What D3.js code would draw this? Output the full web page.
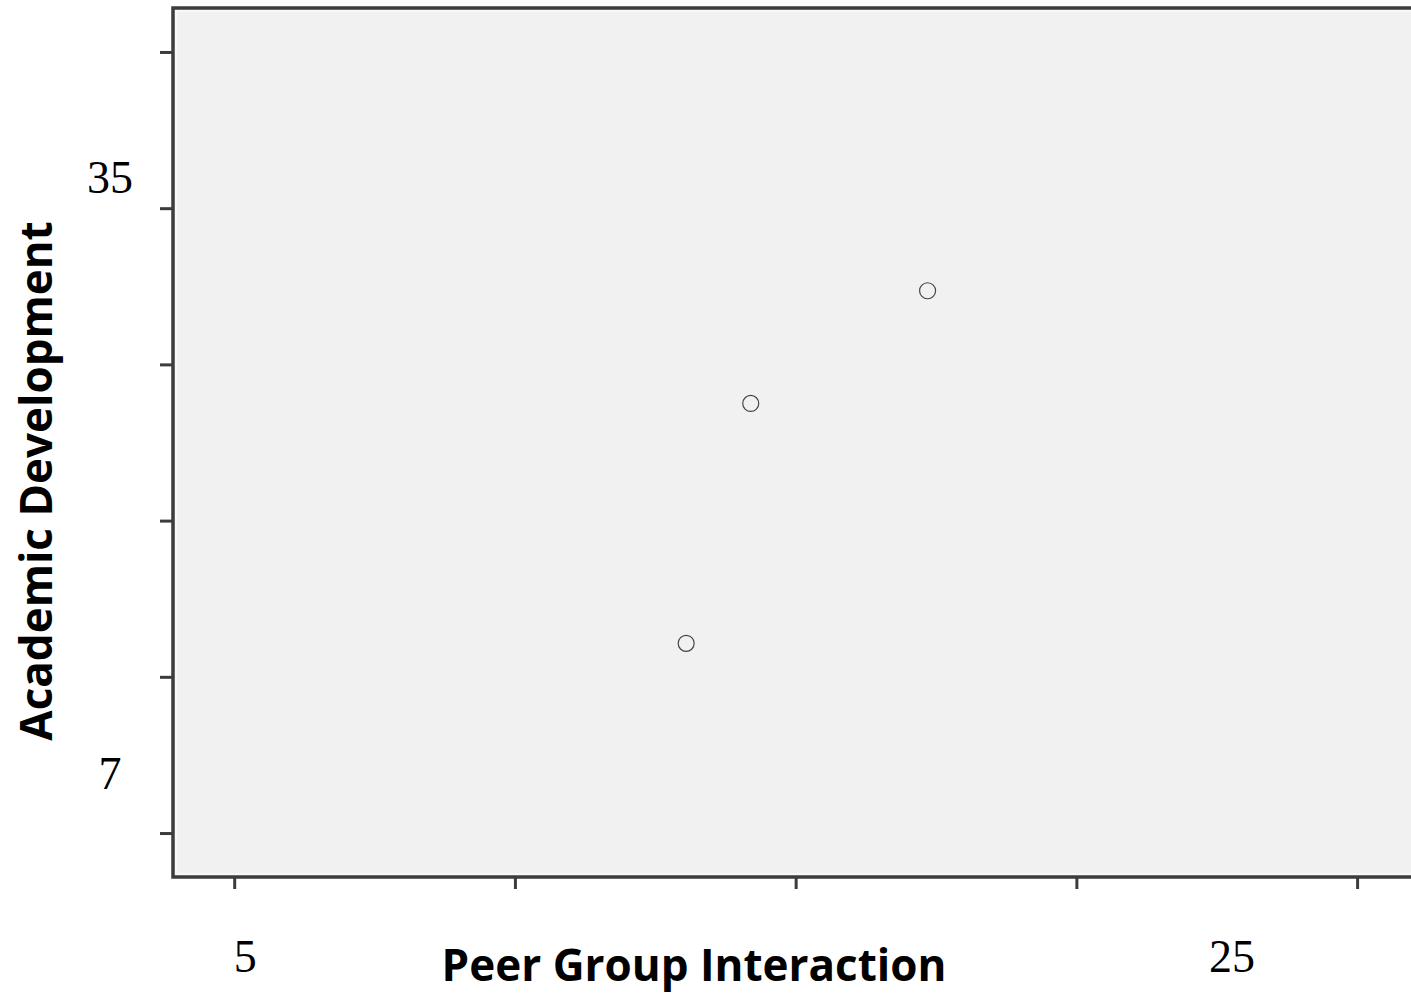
<!DOCTYPE html>
<html>
<head>
<meta charset="utf-8">
<script src="https://cdn.jsdelivr.net/npm/d3@7"></script>
<style>
  body { margin: 0; background: #fff; }
</style>
</head>
<body>
<div id="chart"></div>
<script>
// data
const peerGroup = [13.05, 14.2, 17.35];
const academicDev = [15.5, 26.25, 31.3];
const xTicks = [5, 10, 15, 20, 25];
const yTicks = [7, 14, 21, 28, 35, 42];
const xLabels = [5, 25];
const yLabels = [7, 35];

const margin = { top: 8, right: 0, bottom: 116, left: 173 };
const width = 1411 - margin.left - margin.right;
const height = 993 - margin.top - margin.bottom;

const svg = d3.select('#chart')
    .append('svg')
    .attr('width', width + margin.left + margin.right)
    .attr('height', height + margin.top + margin.bottom)
    .append('g')
    .attr('transform', `translate(${margin.left},${margin.top})`);

// scales
const x = d3.scaleLinear()
    .domain([3.91, 25.96])
    .range([0, width]);

const y = d3.scaleLinear()
    .domain([5.03, 43.97])
    .range([height, 0]);

// plot background
svg.append('rect')
    .attr('width', width + 2)
    .attr('height', height)
    .attr('fill', '#f1f1f1');

svg.append('rect')
    .attr('x', 3).attr('y', 3)
    .attr('width', width)
    .attr('height', height - 6)
    .attr('fill', 'none')
    .attr('stroke', '#f8f8f8')
    .attr('stroke-width', 2);

// axes, labels drawn separately
const xAxis = d3.axisBottom(x).tickValues(xTicks).tickSize(12).tickFormat('');
const yAxis = d3.axisLeft(y).tickValues(yTicks).tickSize(13).tickFormat('');

const gx = svg.append('g')
    .attr('transform', `translate(0,${height})`)
    .call(xAxis);
const gy = svg.append('g').call(yAxis);

[gx, gy].forEach(g => {
    g.select('.domain').remove();
    g.selectAll('.tick line').attr('stroke', '#3c3c3c').attr('stroke-width', 3);
});

// frame lines (left, top, bottom)
svg.append('path')
    .attr('d', `M${width + 2},0H0V${height}H${width + 2}`)
    .attr('fill', 'none')
    .attr('stroke', '#3c3c3c')
    .attr('stroke-width', 3.5);

// points
svg.append('g')
    .selectAll('circle')
    .data(peerGroup)
    .join('circle')
    .attr('cx', d => x(d))
    .attr('cy', (d, i) => y(academicDev[i]))
    .attr('r', 8)
    .attr('fill', 'none')
    .attr('stroke', '#444')
    .attr('stroke-width', 1.2);

// tick labels (sit a bit off their ticks in the original)
const xNudge = { 5: 11, 25: -125 };
const yNudge = { 7: -60, 35: -31 };

svg.append('g')
    .selectAll('text')
    .data(xLabels)
    .join('text')
    .attr('x', d => x(d) + xNudge[d])
    .attr('y', height + 95)
    .attr('text-anchor', 'middle')
    .style('font-family', "'Liberation Serif', serif")
    .style('font-size', '46px')
    .text(d => d);

svg.append('g')
    .selectAll('text')
    .data(yLabels)
    .join('text')
    .attr('x', -63)
    .attr('y', d => y(d) + yNudge[d] + 16)
    .attr('text-anchor', 'middle')
    .style('font-family', "'Liberation Serif', serif")
    .style('font-size', '46px')
    .text(d => d);

// axis titles
svg.append('text')
    .attr('x', 694 - margin.left)
    .attr('y', height + 104)
    .attr('text-anchor', 'middle')
    .style('font-family', "'Open Sans', sans-serif")
    .style('font-weight', 'bold')
    .style('font-size', '44px')
    .text('Peer Group Interaction');

svg.append('text')
    .attr('transform', `translate(${52 - margin.left},${481 - margin.top}) rotate(-90)`)
    .attr('text-anchor', 'middle')
    .style('font-family', "'Open Sans', sans-serif")
    .style('font-weight', 'bold')
    .style('font-size', '44px')
    .text('Academic Development');
</script>
</body>
</html>
